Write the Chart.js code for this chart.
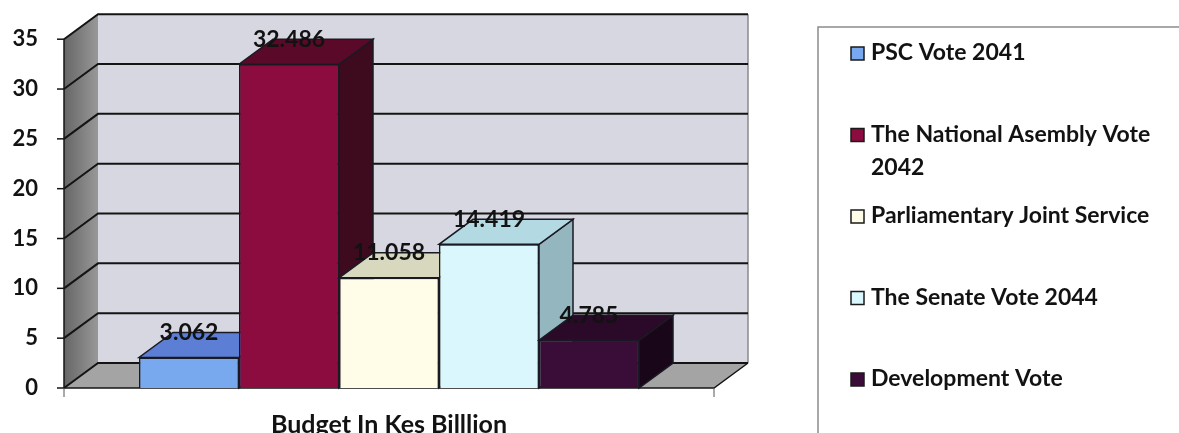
<!DOCTYPE html>
<html><head><meta charset="utf-8">
<script src="https://cdn.jsdelivr.net/npm/chart.js@4/dist/chart.umd.min.js"></script>
<style>html,body{margin:0;padding:0;background:#fff;overflow:hidden}#wrap{width:1179px;height:433px;position:relative}</style>
</head><body><div id="wrap"><canvas id="c" width="1179" height="433"></canvas></div>
<script>
const categories = ['Budget In Kes Billlion'];
const seriesNames = ['PSC Vote 2041', 'The National Asembly Vote 2042', 'Parliamentary Joint Service', 'The Senate Vote 2044', 'Development Vote'];
const legendLines = [['PSC Vote 2041'], ['The National Asembly Vote', '2042'], ['Parliamentary Joint Service'], ['The Senate Vote 2044'], ['Development Vote']];
const values = [3.062, 32.486, 11.058, 14.419, 4.785];
const valueLabels = ['3.062', '32.486', '11.058', '14.419', '4.785'];
const yMin = 0, yMax = 35, yStep = 5;

const frontColors = ['#78a9ef', '#8c0c40', '#fffde8', '#d9f7fc', '#3a0c38'];
const topColors   = ['#5c7ed4', '#5a0a28', '#d8d8bf', '#b3d9e2', '#2a0a28'];
const sideColors  = ['#4a66b0', '#3e0a1e', '#b9b9a0', '#93b6bf', '#190618'];

const FONT = "Lato, 'Open Sans', sans-serif";
const DX = 34, DY = -25;

function poly(ctx, pts, fill, stroke, lw) {
  ctx.beginPath();
  ctx.moveTo(pts[0][0], pts[0][1]);
  for (let k = 1; k < pts.length; k++) ctx.lineTo(pts[k][0], pts[k][1]);
  ctx.closePath();
  if (fill) { ctx.fillStyle = fill; ctx.fill(); }
  if (stroke) { ctx.strokeStyle = stroke; ctx.lineWidth = lw || 1; ctx.stroke(); }
}

const threeD = {
  id: 'threeD',
  beforeDatasetsDraw(chart) {
    const ctx = chart.ctx, a = chart.chartArea, y = chart.scales.y;
    const L = a.left, R = a.right, T = a.top, B = a.bottom;
    ctx.save();
    ctx.fillStyle = '#d6d7e1';
    ctx.fillRect(L + DX, T + DY, R - L, B - T);
    const g = ctx.createLinearGradient(L, 0, L + DX, 0);
    g.addColorStop(0, '#666666'); g.addColorStop(1, '#989898');
    poly(ctx, [[L, T], [L + DX, T + DY], [L + DX, B + DY], [L, B]], g);
    poly(ctx, [[L, B], [R, B], [R + DX, B + DY], [L + DX, B + DY]], '#a4a4a4');
    ctx.strokeStyle = '#8a8a8a'; ctx.lineWidth = 1.5;
    ctx.beginPath(); ctx.moveTo(R + DX, T + DY); ctx.lineTo(R + DX, B + DY); ctx.stroke();
    ctx.strokeStyle = '#141414'; ctx.lineWidth = 2;
    y.ticks.forEach(t => {
      const py = y.getPixelForValue(t.value);
      ctx.beginPath();
      ctx.moveTo(L, py); ctx.lineTo(L + DX, py + DY); ctx.lineTo(R + DX, py + DY);
      ctx.stroke();
    });
    ctx.lineWidth = 1.5;
    ctx.beginPath(); ctx.moveTo(L, B); ctx.lineTo(R, B); ctx.lineTo(R + DX, B + DY); ctx.stroke();
    ctx.restore();
  },
  afterDatasetsDraw(chart) {
    const ctx = chart.ctx;
    ctx.save();
    chart.data.datasets.forEach((ds, i) => {
      const meta = chart.getDatasetMeta(i);
      meta.data.forEach(el => {
        const p = el.getProps(['x', 'y', 'base', 'width'], true);
        const l = p.x - p.width / 2, r = p.x + p.width / 2;
        poly(ctx, [[r, p.y], [r + DX, p.y + DY], [r + DX, p.base + DY], [r, p.base]], sideColors[i], '#1a1a24', 1.5);
        poly(ctx, [[l, p.y], [r, p.y], [r + DX, p.y + DY], [l + DX, p.y + DY]], topColors[i], '#1a1a24', 1.5);
        el.draw(ctx, chart.chartArea);
      });
    });
    ctx.font = 'bold 23px ' + FONT;
    ctx.fillStyle = '#121212';
    ctx.textAlign = 'center';
    ctx.textBaseline = 'middle';
    chart.data.datasets.forEach((ds, i) => {
      const meta = chart.getDatasetMeta(i);
      meta.data.forEach(el => {
        const p = el.getProps(['x', 'y'], true);
        ctx.fillText(valueLabels[i], p.x, p.y + DY);
      });
    });
    ctx.restore();
  },
  afterDraw(chart) {
    const ctx = chart.ctx, a = chart.chartArea, y = chart.scales.y;
    const L = a.left, R = a.right, T = a.top, B = a.bottom;
    ctx.save();
    ctx.strokeStyle = '#141414'; ctx.lineWidth = 1.5;
    ctx.beginPath(); ctx.moveTo(L, T); ctx.lineTo(L, B); ctx.stroke();
    y.ticks.forEach(t => {
      const py = y.getPixelForValue(t.value);
      ctx.beginPath(); ctx.moveTo(L - 7, py); ctx.lineTo(L, py); ctx.stroke();
    });
    ctx.strokeStyle = '#555'; ctx.lineWidth = 1;
    [L, R].forEach(px => { ctx.beginPath(); ctx.moveTo(px, B); ctx.lineTo(px, B + 9); ctx.stroke(); });
    // legend
    ctx.strokeStyle = '#8c8c8c'; ctx.lineWidth = 1.5;
    ctx.strokeRect(818, 27, 400, 450);
    ctx.font = 'bold 23px ' + FONT;
    ctx.textAlign = 'left'; ctx.textBaseline = 'middle';
    legendLines.forEach((lines, i) => {
      const cy = 53 + i * 81.5;
      ctx.fillStyle = frontColors[i];
      ctx.fillRect(851, cy - 6, 13, 13);
      ctx.strokeStyle = '#1a1a1a'; ctx.lineWidth = 1.5;
      ctx.strokeRect(851, cy - 6, 13, 13);
      ctx.fillStyle = '#121212';
      lines.forEach((txt, j) => ctx.fillText(txt, 871, cy + j * 33));
    });
    ctx.restore();
  }
};

const datasets = seriesNames.map((name, i) => ({
  label: name,
  data: [values[i]],
  backgroundColor: frontColors[i],
  borderColor: '#1a1a24',
  borderWidth: 1.5
}));

new Chart(document.getElementById('c'), {
  type: 'bar',
  data: { labels: categories, datasets: datasets },
  options: {
    responsive: false,
    animation: false,
    devicePixelRatio: 1,
    layout: { padding: { left: 0, right: 465, top: 38, bottom: 0 } },
    datasets: { bar: { barPercentage: 1, categoryPercentage: 500 / 650 } },
    plugins: { legend: { display: false }, tooltip: { enabled: false } },
    scales: {
      x: {
        grid: { display: false, drawTicks: false },
        border: { display: false },
        ticks: { color: '#121212', font: { family: FONT, size: 25, weight: 'bold' }, padding: 22 },
        afterFit(s) { s.height = 45; }
      },
      y: {
        min: yMin, max: yMax,
        grid: { display: false, drawTicks: false },
        border: { display: false },
        ticks: { stepSize: yStep, color: '#121212', font: { family: FONT, size: 22, weight: 'bold' }, padding: 26 },
        afterFit(s) { s.width = 64; }
      }
    }
  },
  plugins: [threeD]
});
</script>
</body></html>
